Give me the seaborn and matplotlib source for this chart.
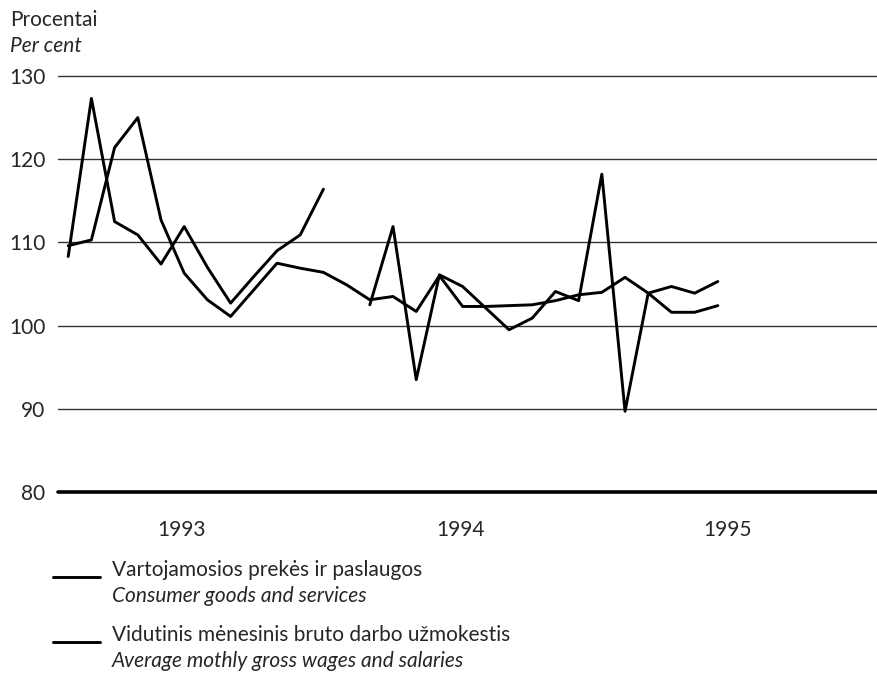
import matplotlib
matplotlib.use("Agg")
import matplotlib.pyplot as plt
import seaborn as sns
import pandas as pd
import numpy as np

# monthly, Jan 1993 .. May 1995
months = list(range(29))
consumer = [109.6, 110.3, 121.4, 125.0, 112.7, 106.3, 103.1, 101.1, 104.3, 107.5, 106.9, 106.4,
            104.9, 103.1, 103.5, 101.7, 106.0, 102.3, 102.3, 102.4, 102.5, 103.0, 103.7, 104.0,
            105.8, 103.9, 104.7, 103.9, 105.3]
wages = [108.3, 127.3, 112.5, 110.9, 107.4, 111.9, 107.0, 102.7, 105.9, 109.0, 110.9, 116.4,
         np.nan, 102.5, 111.9, 93.5, 106.1, 104.7, 102.1, 99.5, 100.9, 104.1, 103.0, 118.2,
         89.7, 103.9, 101.6, 101.6, 102.4]
year_labels = ["1993", "1994", "1995"]
year_pos = [4.9, 16.9, 28.4]
y_ticks = [80, 90, 100, 110, 120, 130]

sns.set_theme(style="white")
plt.rcParams['font.family'] = ['Lato', 'DejaVu Sans']

fig = plt.figure(figsize=(8.78, 6.75), dpi=100)
ax = fig.add_axes([58/878, 1-492/675, 819/878, 416/675])

# gap in wages -> split into segments
df = pd.DataFrame({"month": months, "consumer": consumer, "wages": wages})
df["seg"] = np.cumsum(df["wages"].isna().values)
w = df.dropna(subset=["wages"])

for yv in y_ticks[1:]:
    ax.axhline(yv, color="#333333", lw=1.0, zorder=1, clip_on=False)
ax.axhline(80, color="black", lw=2.6, zorder=1, clip_on=False)

sns.lineplot(data=df, x="month", y="consumer", color="black", lw=2.1, ax=ax,
             estimator=None, zorder=3, clip_on=False)
sns.lineplot(data=w, x="month", y="wages", units="seg", color="black", lw=2.1, ax=ax,
             estimator=None, zorder=3, clip_on=False)

ax.set_xlim(-0.44, 34.86)
ax.set_ylim(80, 130)
ax.set_yticks(y_ticks)
ax.set_yticklabels([str(t) for t in y_ticks], fontsize=15)
ax.set_xticks(year_pos)
ax.set_xticklabels(year_labels, fontsize=15)
ax.tick_params(axis="y", length=0, pad=9)
ax.tick_params(axis="x", length=0, pad=20)
ax.set_xlabel("")
ax.set_ylabel("")
for s in ax.spines.values():
    s.set_visible(False)

fig.text(10/878, 1-20/675, "Procentai", fontsize=15, va="center", ha="left")
fig.text(10/878, 1-46/675, "Per cent", fontsize=15, va="center", ha="left", style="italic")

# legend
for ly, t1, t2 in [(577, "Vartojamosios prekės ir paslaugos", "Consumer goods and services"),
                   (642, "Vidutinis mėnesinis bruto darbo užmokestis", "Average mothly gross wages and salaries")]:
    fig.add_artist(plt.Line2D([53/878, 100/878], [1-ly/675, 1-ly/675], color="black", lw=2.1))
    fig.text(112/878, 1-(ly-7)/675, t1, fontsize=15, va="center", ha="left")
    fig.text(112/878, 1-(ly+19)/675, t2, fontsize=15, va="center", ha="left", style="italic")

fig.savefig("out.png", dpi=100, facecolor="white")
